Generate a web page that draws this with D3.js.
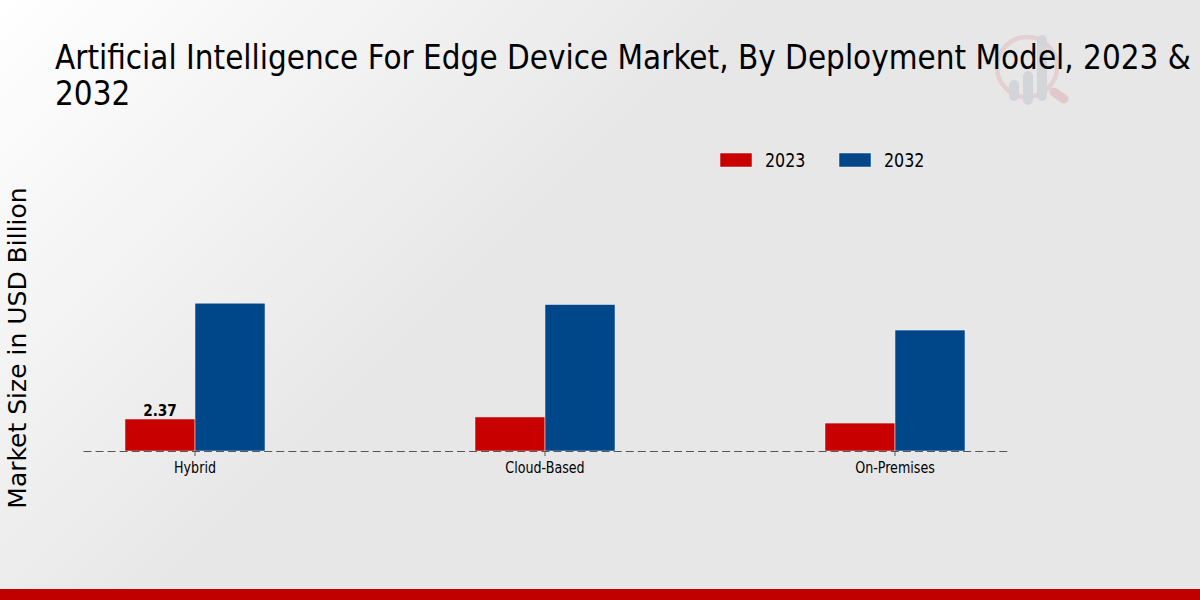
<!DOCTYPE html>
<html>
<head>
<meta charset="utf-8">
<script src="https://cdn.jsdelivr.net/npm/d3@7"></script>
<style>
html, body { margin: 0; padding: 0; }
svg { display: block; }
text { font-family: "DejaVu Sans"; fill: #000; }
.narrow { font-stretch: condensed; }
</style>
</head>
<body>
<svg id="chart" width="1200" height="600"></svg>
<script>
const WIDTH = 1200;
const HEIGHT = 600;
const BASE_Y = 451;

const categories = ['Hybrid', 'Cloud-Based', 'On-Premises'];
const years = ['2023', '2032'];
const values2023 = [2.37, 2.52, 2.07];
const values2032 = [10.95, 10.85, 8.96];
const colors = ['#c80000', '#00478a'];
const titleLines = ['Artificial Intelligence For Edge Device Market, By Deployment Model, 2023 &', '2032'];

const svg = d3.select('#chart');

// the reference text is narrower than plain condensed, so pull it in a little
function squeeze(sel, factor) {
	sel.each((d, i, n) => {
		n[i].setAttribute('textLength', n[i].getComputedTextLength() * factor);
		n[i].setAttribute('lengthAdjust', 'spacingAndGlyphs');
	});
}

// page background
const grad = svg.append('defs').append('linearGradient')
	.attr('id', 'bg')
	.attr('gradientUnits', 'userSpaceOnUse')
	.attr('x1', 0).attr('y1', 0)
	.attr('x2', 380).attr('y2', 380);
grad.append('stop').attr('offset', 0).attr('stop-color', '#ffffff');
grad.append('stop').attr('offset', 1).attr('stop-color', '#e7e7e7');

svg.append('rect').attr('width', WIDTH).attr('height', HEIGHT).attr('fill', 'url(#bg)');
svg.append('rect').attr('y', 589).attr('width', WIDTH).attr('height', 11).attr('fill', '#c00000');

// faint logo behind the title
const logo = svg.append('g').attr('transform', 'translate(1027,67)');
logo.append('circle').attr('r', 30).attr('fill', 'none')
	.attr('stroke', '#e3d0d2').attr('stroke-width', 4.5);
logo.append('line').attr('x1', 27).attr('y1', 25).attr('x2', 37).attr('y2', 32)
	.attr('stroke', '#e3c8cb').attr('stroke-width', 9).attr('stroke-linecap', 'round');
[[-13, 18, 29], [1, 9, 33], [15, -27, 29]].forEach(([x, top, bottom]) => {
	logo.append('line').attr('x1', x).attr('y1', top).attr('x2', x).attr('y2', bottom)
		.attr('stroke', '#d3d5d9').attr('stroke-width', 10).attr('stroke-linecap', 'round');
});

const x = d3.scaleBand()
	.domain(categories)
	.range([83, 1007])
	.paddingInner(0.6)
	.paddingOuter(0.12);
const xYear = d3.scaleBand().domain(years).range([0, x.bandwidth()]);
const y = d3.scaleLinear().domain([0, 12]).range([BASE_Y, BASE_Y - 162]);

const series = [values2023, values2032];
years.forEach((year, s) => {
	svg.append('g')
		.selectAll('rect')
		.data(series[s])
		.enter()
		.append('rect')
		.attr('x', (d, i) => x(categories[i]) + xYear(year))
		.attr('y', d => y(d))
		.attr('width', xYear.bandwidth())
		.attr('height', d => y(0) - y(d))
		.attr('fill', colors[s])
		.attr('stroke', '#f2f2f2')
		.attr('stroke-width', 0.5);
});

// x axis
const axis = svg.append('g')
	.attr('transform', `translate(0,${BASE_Y})`)
	.call(d3.axisBottom(x).tickSize(5).tickPadding(6).tickSizeOuter(0));
axis.select('.domain')
	.attr('stroke', '#555')
	.attr('stroke-width', 1.2)
	.attr('stroke-dasharray', '8 4.05');
axis.selectAll('.tick line').attr('stroke', '#555');
axis.selectAll('.tick text')
	.attr('class', 'narrow')
	.attr('font-family', null)
	.style('font-size', '15px')
	.style('fill', '#000')
	.call(squeeze, 0.94);

svg.append('text')
	.attr('x', x(categories[0]) + xYear(years[0]) + xYear.bandwidth() / 2)
	.attr('y', y(values2023[0]) - 3)
	.attr('text-anchor', 'middle')
	.attr('class', 'narrow')
	.style('font-size', '16px')
	.style('font-weight', 'bold')
	.text(values2023[0])
	.call(squeeze, 0.95);

// title
svg.append('g')
	.selectAll('text')
	.data(titleLines)
	.enter()
	.append('text')
	.attr('class', 'narrow')
	.attr('x', 55)
	.attr('y', (d, i) => 69 + i * 36)
	.style('font-size', '33px')
	.text(d => d)
	.call(squeeze, 0.9965);

// y axis label
svg.append('text')
	.attr('transform', 'translate(26,348) rotate(-90)')
	.attr('text-anchor', 'middle')
	.style('font-size', '25px')
	.text('Market Size in USD Billion');

// legend
const legendX = d3.scalePoint().domain(years).range([720, 839]);
const legend = svg.append('g')
	.selectAll('g')
	.data(years)
	.enter()
	.append('g')
	.attr('transform', d => `translate(${legendX(d)},153)`);
legend.append('rect')
	.attr('width', 32)
	.attr('height', 14)
	.attr('fill', (d, i) => colors[i])
	.attr('stroke', '#f2f2f2')
	.attr('stroke-width', 0.5);
legend.append('text')
	.attr('class', 'narrow')
	.attr('x', 45)
	.attr('y', 14)
	.style('font-size', '19px')
	.text(d => d)
	.call(squeeze, 0.93);
</script>
</body>
</html>
